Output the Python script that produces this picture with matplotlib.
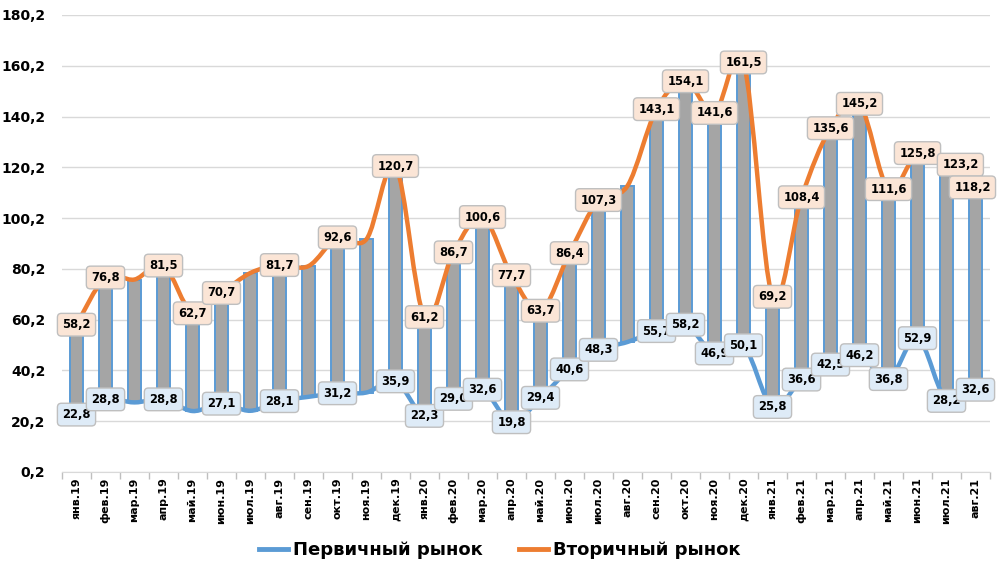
import matplotlib
matplotlib.use("Agg")
import matplotlib.pyplot as plt
from matplotlib.path import Path
from matplotlib.patches import PathPatch
from matplotlib.lines import Line2D
import numpy as np

months = ['янв.19', 'фев.19', 'мар.19', 'апр.19', 'май.19', 'июн.19', 'июл.19', 'авг.19',
          'сен.19', 'окт.19', 'ноя.19', 'дек.19', 'янв.20', 'фев.20', 'мар.20', 'апр.20',
          'май.20', 'июн.20', 'июл.20', 'авг.20', 'сен.20', 'окт.20', 'ноя.20', 'дек.20',
          'янв.21', 'фев.21', 'мар.21', 'апр.21', 'май.21', 'июн.21', 'июл.21', 'авг.21']

primary = [22.8, 28.8, 27.6, 28.8, 24.2, 27.1, 24.3, 28.1, 29.8, 31.2, 31.5, 35.9,
           22.3, 29.0, 32.6, 19.8, 29.4, 40.6, 48.3, 51.4, 55.7, 58.2, 46.9, 50.1,
           25.8, 36.6, 42.5, 46.2, 36.8, 52.9, 28.2, 32.6]
secondary = [58.2, 76.8, 76.0, 81.5, 62.7, 70.7, 78.6, 81.7, 81.3, 92.6, 91.9, 120.7,
             61.2, 86.7, 100.6, 77.7, 63.7, 86.4, 107.3, 112.9, 143.1, 154.1, 141.6, 161.5,
             69.2, 108.4, 135.6, 145.2, 111.6, 125.8, 123.2, 118.2]
# months whose data labels are not shown
primary_unlabeled = [2, 4, 6, 8, 10, 19]
secondary_unlabeled = [2, 6, 8, 10, 19]
# label nudges (points, dx/dy) to avoid overlaps, as in the original
secondary_label_shift = {30: (10, -3.6), 31: (-2.2, -10.8)}

yticks = [0.2, 20.2, 40.2, 60.2, 80.2, 100.2, 120.2, 140.2, 160.2, 180.2]

BLUE = '#5B9BD5'
ORANGE = '#ED7D31'

fig = plt.figure(figsize=(10, 5.67), dpi=100)
ax = fig.add_axes([0.062, 0.1676, 0.928, 0.806])

x = np.arange(len(months))


def smooth_path(xs, ys):
    pts = np.column_stack([xs, ys]).astype(float)
    n = len(pts)
    verts = [pts[0]]
    codes = [Path.MOVETO]
    for i in range(n - 1):
        p0 = pts[i - 1] if i > 0 else pts[i]
        p1 = pts[i]
        p2 = pts[i + 1]
        p3 = pts[i + 2] if i + 2 < n else pts[i + 1]
        c1 = p1 + (p2 - p0) / 6.0
        c2 = p2 - (p3 - p1) / 6.0
        verts += [c1, c2, p2]
        codes += [Path.CURVE4] * 3
    return Path(verts, codes)


# up/down bars
bottoms = np.minimum(primary, secondary)
heights = np.abs(np.array(secondary) - np.array(primary))
ax.bar(x, heights, bottom=bottoms, width=0.42, color='#A5A5A5', edgecolor=BLUE,
       linewidth=1.4, zorder=2)

for vals, col in [(primary, BLUE), (secondary, ORANGE)]:
    ax.add_patch(PathPatch(smooth_path(x, vals), facecolor='none', edgecolor=col,
                           lw=3.2, zorder=3, capstyle='round', joinstyle='round'))


def fmt(v):
    return f"{v:.1f}".replace('.', ',')


def label(i, v, fc, shift=(0, 0)):
    return ax.annotate(fmt(v), (x[i], v), xytext=shift, textcoords='offset points',
                       ha='center', va='center', fontsize=8.3, fontweight='bold',
                       color='black', zorder=label.z,
                       bbox=dict(boxstyle='round,pad=0.42,rounding_size=0.35', fc=fc,
                                 ec='#BFBFBF', lw=1))


label.z = 5
for i in range(len(months)):
    if i not in primary_unlabeled:
        label(i, primary[i], '#DEEBF7')
        label.z += 0.01
    if i not in secondary_unlabeled:
        label(i, secondary[i], '#FBE5D6', secondary_label_shift.get(i, (0, 0)))
        label.z += 0.01

ax.set_xlim(-0.5, len(months) - 0.5)
ax.set_ylim(0.2, 180.2)
ax.set_yticks(yticks)
ax.set_yticklabels([fmt(v) for v in yticks], fontsize=10, fontweight='bold')
ax.set_xticks(x)
ax.set_xticklabels(months, rotation=90, fontsize=8, fontweight='bold')
ax.set_xticks(np.arange(-0.5, len(months), 1.0), minor=True)
ax.tick_params(axis='x', which='major', length=0, pad=4)
ax.tick_params(axis='x', which='minor', length=5, color='#BFBFBF', width=1)
ax.tick_params(axis='y', length=0, pad=12)
ax.grid(axis='y', color='#D9D9D9', lw=1, zorder=0)
ax.set_axisbelow(True)
for s in ['top', 'right', 'left']:
    ax.spines[s].set_visible(False)
ax.spines['bottom'].set_color('#D9D9D9')

handles = [Line2D([], [], color=BLUE, lw=3.5), Line2D([], [], color=ORANGE, lw=3.5)]
fig.legend(handles, ['Первичный рынок', 'Вторичный рынок'], loc='center',
           bbox_to_anchor=(0.5, 0.03), ncol=2, frameon=False,
           prop=dict(size=13, weight='bold'), handlelength=1.6, handletextpad=0.3,
           columnspacing=2.0)

fig.savefig('out.png', dpi=100)
